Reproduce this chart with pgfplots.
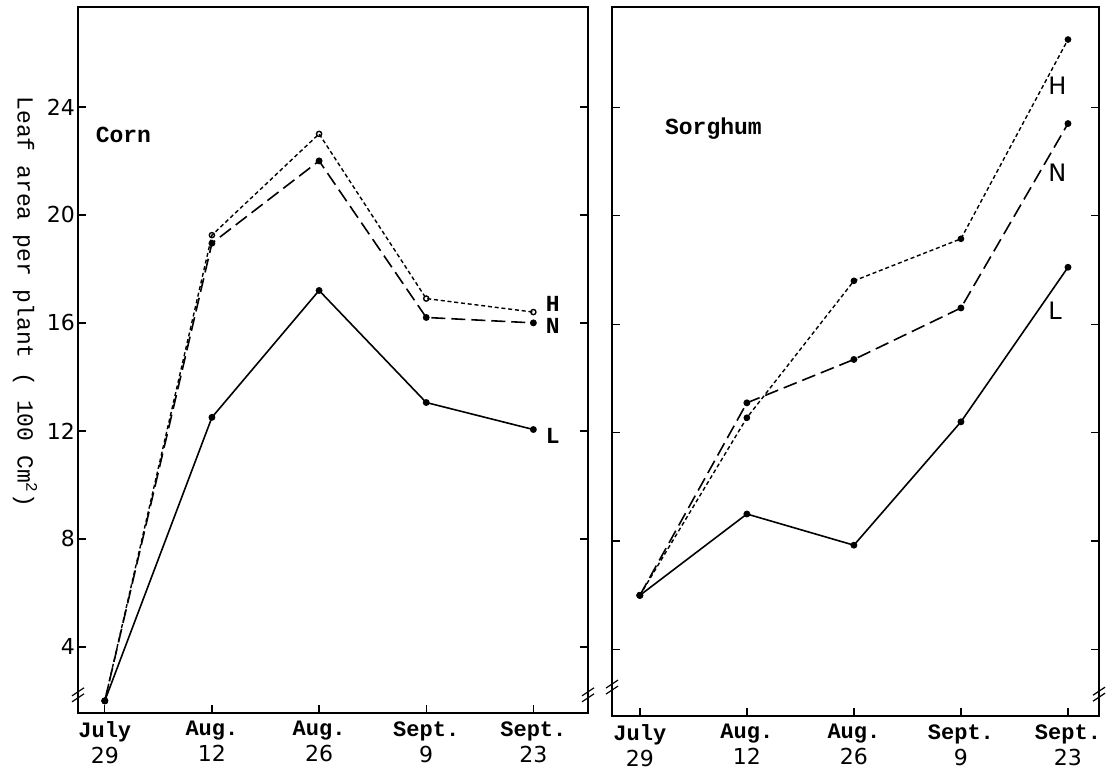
\documentclass[border=0pt]{standalone}
\usepackage{fontspec}
\setmonofont{Liberation Mono}
\setsansfont{DejaVu Sans}
\usepackage{pgfplots}
\pgfplotsset{compat=1.18}

\tikzset{brk/.style={line width=0.6pt}}
\pgfplotsset{
  panel/.style={
    scale only axis,
    height=353pt,
    ymin=1.55, ymax=27.7,
    ytick={4,8,12,16,20,24},
    xtick={0,1,2,3,4},
    xticklabels={{\textbf{July}\\{\sffamily 29}},{\textbf{Aug.}\\{\sffamily 12}},{\textbf{Aug.}\\{\sffamily 26}},{\textbf{Sept.}\\{\sffamily 9}},{\textbf{Sept.}\\{\sffamily 23}}},
    xticklabel style={align=center,font=\fontsize{11}{13}\ttfamily, inner sep=1pt, yshift=-3pt},
    yticklabel style={font=\fontsize{11}{11}\sffamily, xshift=2pt},
    /pgf/number format/assume math mode=true,
    xtick pos=bottom,
    tick align=inside,
    major tick length=4pt,
    axis line style={line width=0.9pt},
    every tick/.style={black, line width=0.7pt},
    clip=false,
    every axis plot/.append style={black, line width=0.8pt, mark size=1.3pt},
  },
  Hline/.style={dash pattern=on 2pt off 1.4pt, line width=0.7pt},
  Nline/.style={dash pattern=on 7pt off 3pt},
  Lline/.style={solid},
}

\begin{document}
\begin{tikzpicture}
\path[use as bounding box] (0,0) rectangle (556pt,388pt);

\begin{axis}[panel, at={(39pt,31.5pt)}, anchor=south west,
  width=255pt, xmin=-0.25, xmax=4.51]
  \addplot[Hline, mark=o, mark options={solid}] coordinates {(0,2.0) (1,19.25) (2,23.0) (3,16.9) (4,16.4)};
  \addplot[Nline, mark=*, mark options={solid}] coordinates {(0,2.0) (1,18.95) (2,22.0) (3,16.2) (4,16.0)};
  \addplot[Lline, mark=*] coordinates {(0,2.0) (1,12.5) (2,17.2) (3,13.05) (4,12.05)};
  \node[font=\fontsize{11.5}{11.5}\ttfamily\bfseries, anchor=west] at (axis cs:-0.15,22.95) {Corn};
  \node[font=\fontsize{11.5}{11.5}\ttfamily\bfseries, anchor=west] at (axis cs:4.05,16.7) {H};
  \node[font=\fontsize{11.5}{11.5}\ttfamily\bfseries, anchor=west] at (axis cs:4.05,15.9) {N};
  \node[font=\fontsize{11.5}{11.5}\ttfamily\bfseries, anchor=west] at (axis cs:4.05,11.8) {L};
  \draw[brk] (rel axis cs:0,0.03) ++(-3pt,-2pt) -- ++(6pt,4pt);
  \draw[brk] (rel axis cs:0,0.03) ++(-3pt,-5pt) -- ++(6pt,4pt);
  \draw[brk] (rel axis cs:1,0.03) ++(-3pt,-2pt) -- ++(6pt,4pt);
  \draw[brk] (rel axis cs:1,0.03) ++(-3pt,-5pt) -- ++(6pt,4pt);
\end{axis}

\begin{axis}[panel, at={(306pt,30pt)}, anchor=south west,
  width=243.5pt, height=354.5pt, xmin=-0.26, xmax=4.29,
  yticklabels={}]
  \addplot[Hline, mark=*, mark options={solid}] coordinates {(0,6.0) (1,12.55) (2,17.6) (3,19.15) (4,26.5)};
  \addplot[Nline, mark=*, mark options={solid}] coordinates {(0,6.0) (1,13.1) (2,14.7) (3,16.6) (4,23.4)};
  \addplot[Lline, mark=*] coordinates {(0,6.0) (1,9.0) (2,7.85) (3,12.4) (4,18.1)};
  \node[font=\fontsize{11.5}{11.5}\ttfamily\bfseries, anchor=west] at (axis cs:0.17,23.2) {Sorghum};
  \node[font=\fontsize{12}{12}\sffamily, anchor=west] at (axis cs:3.75,24.8) {H};
  \node[font=\fontsize{12}{12}\sffamily, anchor=west] at (axis cs:3.75,21.6) {N};
  \node[font=\fontsize{12}{12}\sffamily, anchor=west] at (axis cs:3.75,16.5) {L};
  \draw[brk] (rel axis cs:0,0.045) ++(-3pt,-2pt) -- ++(6pt,4pt);
  \draw[brk] (rel axis cs:0,0.045) ++(-3pt,-5pt) -- ++(6pt,4pt);
  \draw[brk] (rel axis cs:1,0.035) ++(-3pt,-2pt) -- ++(6pt,4pt);
  \draw[brk] (rel axis cs:1,0.035) ++(-3pt,-5pt) -- ++(6pt,4pt);
\end{axis}

\node[rotate=-90, font=\fontsize{11.5}{11.5}\ttfamily] at (12.5pt,237pt)
  {Leaf area per plant ( 100 Cm\textsuperscript{2})};
\end{tikzpicture}
\end{document}
